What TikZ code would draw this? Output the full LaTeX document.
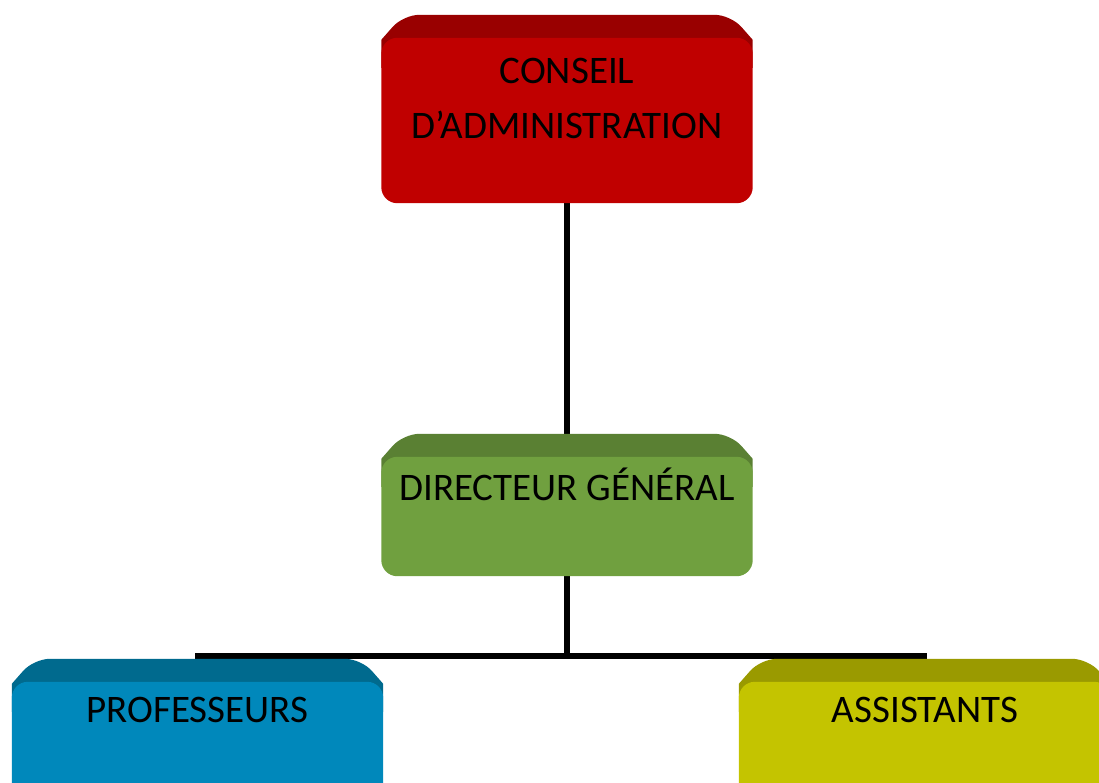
\documentclass[tikz,border=0pt]{standalone}
\usepackage{fontspec}
\setmainfont{Carlito}
\definecolor{redF}{HTML}{C00000}
\definecolor{redT}{HTML}{990000}
\definecolor{greenF}{HTML}{70A03F}
\definecolor{greenT}{HTML}{5A8033}
\definecolor{blueF}{HTML}{0088BB}
\definecolor{blueT}{HTML}{006A8E}
\definecolor{yelF}{HTML}{C4C400}
\definecolor{yelT}{HTML}{9A9A00}
\tikzset{
  face/.style={rounded corners=16pt, minimum width=371pt, inner sep=0pt, draw=none},
  link/.style={line width=5.5pt, black},
  lbl/.style={anchor=base, font=\fontsize{39}{55}\selectfont, text=black, align=center, inner sep=0pt}
}
\newcommand{\bevelof}[2]{%
  \fill[#2] ([shift={(0,30)}]#1.north west) -- ([shift={(0,2)}]#1.north west)
     [rounded corners=16pt] -- ([shift={(22,-23)}]#1.north west)
     -- ([shift={(-22,-23)}]#1.north east) [sharp corners] -- ([shift={(0,2)}]#1.north east)
     -- ([shift={(0,30)}]#1.north east) -- cycle;}
\begin{document}
\begin{tikzpicture}[x=1pt,y=-1pt]
\useasboundingbox (0,0) rectangle (1099,782);
\clip (0,0) rectangle (1099,782);
\path node[face, minimum height=165pt] (ca) at (567,120.5) {}
      node[face, minimum height=119pt] (dg) at (567,516.5) {}
      node[face, minimum height=150pt] (prof) at (197.5,757) {}
      node[face, minimum height=150pt] (asst) at (924.5,757) {};
\coordinate (hm) at (567,656);
% connectors
\draw[link] (ca.south) -- (dg.north);
\draw[link] (dg.south) -- (hm);
\draw[link] (prof.north) |- (hm) -| (asst.north);
% boxes
\bevelof{ca}{redT}
\fill[redF, rounded corners=16pt] (ca.north west) rectangle (ca.south east);
\bevelof{dg}{greenT}
\fill[greenF, rounded corners=16pt] (dg.north west) rectangle (dg.south east);
\bevelof{prof}{blueT}
\fill[blueF, rounded corners=16pt] (prof.north west) rectangle (prof.south east);
\bevelof{asst}{yelT}
\fill[yelF, rounded corners=16pt] (asst.north west) rectangle (asst.south east);
% labels
\node[lbl] (tca1) at (567,83) {CONSEIL};
\node[lbl] (tca2) at (567,138) {D’ADMINISTRATION};
\node[lbl] (tdg) at (567,500) {DIRECTEUR GÉNÉRAL};
\node[lbl] (tprof) at (197.5,722) {PROFESSEURS};
\node[lbl] (tasst) at (925,722) {ASSISTANTS};
\end{tikzpicture}
\end{document}
